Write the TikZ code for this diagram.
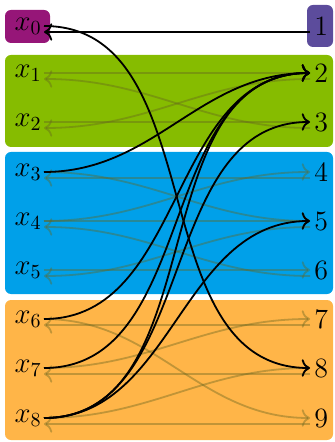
\documentclass[tikz,border=0pt]{standalone}
\usepackage{tikz}
\usetikzlibrary{arrows.meta}
\definecolor{grpzero}{RGB}{150,22,120}
\definecolor{grpone}{RGB}{92,76,156}
\definecolor{grpgreen}{RGB}{134,188,0}
\definecolor{grpblue}{RGB}{0,160,233}
\definecolor{grporange}{RGB}{255,181,72}
\definecolor{linkfaint}{RGB}{100,100,30}

\begin{document}
\begin{tikzpicture}[
  x=0.5pt, y=-0.5pt,
  font=\fontsize{14}{17}\selectfont,
  >={To[scale=1.15]},
  grp/.style={rounded corners=3pt},
  src/.style={anchor=east,inner sep=1pt},
  dst/.style={anchor=west,inner sep=2pt},
  cross/.style={->,line width=0.9pt,out=0,in=180},
  crossback/.style={->,line width=0.9pt,out=180,in=0},
  link/.style={->,line width=0.9pt,draw=linkfaint,draw opacity=.4,out=0,in=180},
  linkback/.style={link,out=180,in=0}
]
  \useasboundingbox (0,0) rectangle (334,442);

  \fill[grp,grpzero] (5,10) rectangle (50,43);
  \fill[grp,grpone] (307,5) rectangle (333,47);
  \fill[grp,grpgreen] (5,55) rectangle (333,147);
  \fill[grp,grpblue] (5,152) rectangle (333,294);
  \fill[grp,grporange] (5,300) rectangle (333,440);

  \node[src] (l0) at (44,26) {$x_0$};
  \node[src] (l1) at (44,73) {$x_1$};
  \node[src] (l2) at (44,122) {$x_2$};
  \node[src] (l3) at (44,172) {$x_3$};
  \node[src] (l4) at (44,221) {$x_4$};
  \node[src] (l5) at (44,270) {$x_5$};
  \node[src] (l6) at (44,319) {$x_6$};
  \node[src] (l7) at (44,368) {$x_7$};
  \node[src] (l8) at (44,418) {$x_8$};

  \node[dst] (r1) at (310,26) {1};
  \node[dst] (r2) at (310,73) {2};
  \node[dst] (r3) at (310,122) {3};
  \node[dst] (r4) at (310,172) {4};
  \node[dst] (r5) at (310,221) {5};
  \node[dst] (r6) at (310,270) {6};
  \node[dst] (r7) at (310,319) {7};
  \node[dst] (r8) at (310,368) {8};
  \node[dst] (r9) at (310,418) {9};

  \draw[link] (l1.east) to (r2.west);
  \draw[link] (l2.east) to (r3.west);
  \draw[linkback] ([yshift=-3pt]r3.west) to ([yshift=-3pt]l1.east);
  \draw[linkback] ([yshift=-3pt]r2.west) to ([yshift=-3pt]l2.east);

  \draw[link] (l3.east) to (r5.west);
  \draw[link] (l4.east) to (r4.west);
  \draw[link] (l4.east) to (r5.west);
  \draw[link] (l5.east) to (r6.west);
  \draw[linkback] ([yshift=-3pt]r4.west) to ([yshift=-3pt]l3.east);
  \draw[linkback] ([yshift=-3pt]r6.west) to ([yshift=-3pt]l4.east);
  \draw[linkback] ([yshift=-3pt]r5.west) to ([yshift=-3pt]l5.east);

  \draw[link] (l6.east) to (r9.west);
  \draw[link] (l7.east) to (r7.west);
  \draw[link] (l8.east) to (r8.west);
  \draw[linkback] ([yshift=-3pt]r7.west) to ([yshift=-3pt]l6.east);
  \draw[linkback] ([yshift=-3pt]r8.west) to ([yshift=-3pt]l7.east);
  \draw[linkback] ([yshift=-3pt]r9.west) to ([yshift=-3pt]l8.east);

  \draw[crossback] ([yshift=-3pt]r1.west) to ([yshift=-3pt]l0.east);
  \draw[cross] (l0.east) to (r8.west);
  \draw[cross] (l3.east) to (r2.west);
  \draw[cross] (l6.east) to (r2.west);
  \draw[cross] (l7.east) to (r2.west);
  \draw[cross] (l8.east) to (r2.west);
  \draw[cross] (l8.east) to (r3.west);
  \draw[cross] (l8.east) to (r5.west);
\end{tikzpicture}
\end{document}
